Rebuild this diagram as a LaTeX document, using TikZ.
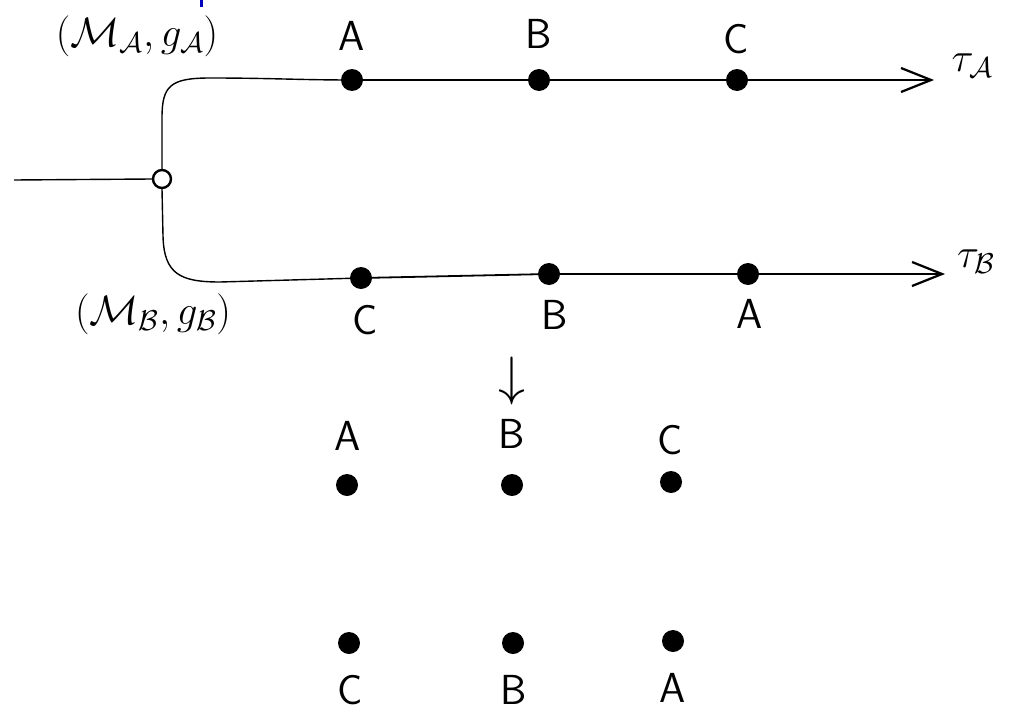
\RequirePackage{fix-cm}
\documentclass[tikz,border=0pt]{standalone}
\usetikzlibrary{arrows.meta}
\begin{document}
\begin{tikzpicture}[x=1pt,y=-1pt,
  dot/.style={circle,fill=black,inner sep=0pt,minimum size=22pt},
  odot/.style={circle,draw=black,fill=white,line width=2.4pt,inner sep=0pt,minimum size=18pt},
  lbl/.style={font=\fontsize{42}{48}\selectfont\sffamily,inner sep=0pt},
  mlbl/.style={font=\fontsize{41}{48}\selectfont,inner sep=0pt},
  thin line/.style={line width=1.4pt},
  axis/.style={line width=2pt,-{Straight Barb[length=30pt,width=24pt,line width=2.2pt]}}]
\useasboundingbox (0,0) rectangle (1012,712);
% small blue mark at top
\draw[blue!75!black,line width=3pt] (201,0) -- (201,7);
% split point
\node[odot] (split) at (162,179) {};
\coordinate (left) at (14,180);
\draw[thin line] (left) -- (split.west);
% top branch
\node[dot] (tA) at (352,80) {};
\node[dot] (tB) at (539,80) {};
\node[dot] (tC) at (737,80) {};
\coordinate (tEnd) at (934,80);
\draw[thin line] (split.north) -- (162,118) .. controls (162,86) and (170,78) .. (210,78)
  .. controls (270,78) and (300,80) .. (tA.center);
\draw[line width=2pt] (tA) -- (tB) -- (tC);
\draw[axis] (tC) -- (tEnd);
% bottom branch
\node[dot] (bC) at (361,278) {};
\node[dot] (bB) at (549,274) {};
\node[dot] (bA) at (748,274) {};
\coordinate (bEnd) at (945,274);
\draw[thin line] (split.south) -- (163,236) .. controls (164,274) and (180,282) .. (220,282)
  -- (bC.center);
\draw[line width=1.8pt] (bC) -- (bB) -- (bA);
\draw[axis] (bA) -- (bEnd);
% labels top
\node[lbl] at (352,36) {A};
\node[lbl] at (539,34) {B};
\node[lbl] at (736,39) {C};
\node[mlbl] at (137,36) {$(\mathcal{M}_{\mathcal{A}},g_{\mathcal{A}})$};
\node[mlbl] at (972,66) {$\tau_{\mathcal{A}}$};
% labels bottom
\node[lbl] at (365,320) {C};
\node[lbl] at (555,315) {B};
\node[lbl] at (750,314) {A};
\node[mlbl] at (153,314) {$(\mathcal{M}_{\mathcal{B}},g_{\mathcal{B}})$};
\node[mlbl] at (976,262) {$\tau_{\mathcal{B}}$};
% middle group
\node[font=\fontsize{54}{60}\selectfont,inner sep=0pt] at (512,381) {$\downarrow$};
\node[lbl] at (348,436) {A};
\node[lbl] at (512,434) {B};
\node[lbl] at (670,440) {C};
\node[dot] (mA) at (347,485) {};
\node[dot] (mB) at (512,485) {};
\node[dot] (mC) at (671,482) {};
% bottom group
\node[dot] (lC) at (349,643) {};
\node[dot] (lB) at (513,643) {};
\node[dot] (lA) at (673,641) {};
\node[lbl] at (350,690) {C};
\node[lbl] at (514,690) {B};
\node[lbl] at (673,688) {A};
\end{tikzpicture}
\end{document}
